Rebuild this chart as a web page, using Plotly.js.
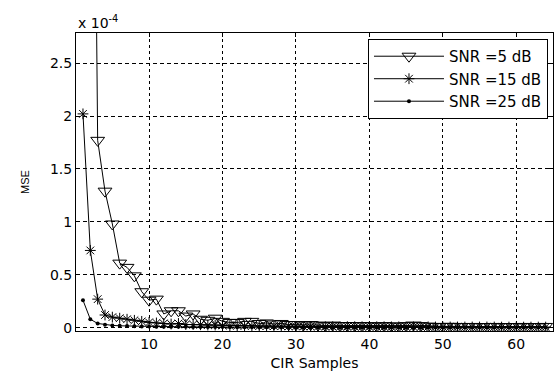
<!DOCTYPE html>
<html>
<head>
<meta charset="utf-8">
<script src="https://cdn.plot.ly/plotly-3.0.1.min.js"></script>
<style>html,body{margin:0;padding:0;background:#fff;}#chart{width:554px;height:373px;}</style>
</head>
<body>
<div id="chart"></div>
<script>
// CIR sample index
const samples = [];
for (let i = 1; i <= 64; i++) samples.push(i);

// MSE values (x 1e-4)
const snr5 = [30, 9.0, 1.77, 1.29, 0.98, 0.61, 0.57, 0.49, 0.34, 0.26,
  0.27, 0.13, 0.16, 0.16, 0.11, 0.13, 0.08, 0.07, 0.09, 0.06,
  0.05, 0.05, 0.06, 0.06, 0.04, 0.045, 0.035, 0.04, 0.03, 0.03,
  0.025, 0.03, 0.025, 0.02, 0.025, 0.02, 0.02, 0.02, 0.018, 0.02,
  0.015, 0.02, 0.017, 0.015, 0.02, 0.025, 0.02, 0.015, 0.012, 0.012,
  0.013, 0.012, 0.011, 0.012, 0.01, 0.011, 0.012, 0.01, 0.011, 0.01,
  0.012, 0.01, 0.011, 0.012];
const snr15 = [2.02, 0.73, 0.27, 0.12, 0.10, 0.09, 0.08, 0.07, 0.06, 0.05,
  0.045, 0.04, 0.035, 0.04, 0.03, 0.03, 0.028, 0.025, 0.025, 0.022,
  0.02, 0.02, 0.018, 0.018, 0.016, 0.015, 0.015, 0.014, 0.013, 0.013,
  0.012, 0.012, 0.011, 0.011, 0.01, 0.01, 0.01, 0.01, 0.009, 0.009,
  0.009, 0.009, 0.008, 0.008, 0.008, 0.008, 0.008, 0.008, 0.007, 0.007,
  0.007, 0.007, 0.007, 0.007, 0.007, 0.007, 0.007, 0.006, 0.006, 0.006,
  0.006, 0.006, 0.006, 0.006];
const snr25 = [0.26, 0.08, 0.04, 0.028, 0.022, 0.018, 0.016, 0.014, 0.012, 0.011,
  0.01, 0.009, 0.009, 0.008, 0.008, 0.007, 0.007, 0.006, 0.006, 0.006,
  0.005, 0.005, 0.005, 0.005, 0.005, 0.004, 0.004, 0.004, 0.004, 0.004,
  0.004, 0.004, 0.003, 0.003, 0.003, 0.003, 0.003, 0.003, 0.003, 0.003,
  0.003, 0.003, 0.003, 0.003, 0.003, 0.003, 0.003, 0.003, 0.003, 0.003,
  0.003, 0.003, 0.003, 0.003, 0.003, 0.003, 0.003, 0.003, 0.003, 0.003,
  0.003, 0.003, 0.003, 0.003];

const names = ['SNR =5 dB', 'SNR =15 dB', 'SNR =25 dB'];
const xTicks = [10, 20, 30, 40, 50, 60];
const yTicks = [0, 0.5, 1, 1.5, 2, 2.5];
const yTickText = ['0', '0.5', '1', '1.5', '2', '2.5'];

const line = {color: '#000', width: 1};
const traces = [
  {x: samples, y: snr5, name: names[0], mode: 'lines+markers', line: line,
   marker: {symbol: 'triangle-down-open', size: 12, color: '#000', line: {width: 1, color: '#000'}}},
  {x: samples, y: snr15, name: names[1], mode: 'lines+markers', line: line,
   marker: {symbol: 'asterisk-open', size: 9, color: '#000', line: {width: 1, color: '#000'}}},
  {x: samples, y: snr25, name: names[2], mode: 'lines+markers', line: line,
   marker: {symbol: 'circle', size: 4, color: '#000'}}
];

const font = {family: 'DejaVu Sans, sans-serif', size: 14, color: '#000'};
const smallFont = {family: 'Liberation Sans, Arial, sans-serif', size: 11, color: '#000'};
const legFont = {family: 'DejaVu Sans, sans-serif', size: 15, color: '#000'};
const layout = {
  width: 554, height: 373,
  margin: {l: 76, r: 1, t: 33, b: 42},
  paper_bgcolor: '#fff', plot_bgcolor: '#fff',
  font: font,
  showlegend: true,
  xaxis: {
    range: [0.05, 65], tickvals: xTicks, ticks: 'inside', ticklen: 4, tickcolor: '#000',
    showline: true, linecolor: '#000', linewidth: 1, mirror: 'ticks',
    showgrid: true, gridcolor: '#000', gridwidth: 1, griddash: '3px,3px',
    zeroline: false, tickfont: font,
    title: {text: 'CIR Samples', font: font, standoff: 7}
  },
  yaxis: {
    range: [-0.031, 2.784], tickvals: yTicks, ticktext: yTickText, ticks: 'inside', ticklen: 4, tickcolor: '#000',
    showline: true, linecolor: '#000', linewidth: 1, mirror: 'ticks',
    showgrid: true, gridcolor: '#000', gridwidth: 1, griddash: '4px,3px',
    zeroline: false, tickfont: font,
    title: {text: 'MSE', font: smallFont, standoff: 18}
  },
  legend: {
    x: 0.9895, y: 0.98, xanchor: 'right', yanchor: 'top',
    bgcolor: '#fff', bordercolor: '#000', borderwidth: 1,
    font: legFont, itemwidth: 70, tracegroupgap: 0
  },
  annotations: [{
    text: 'x 10<sup>-4</sup>', xref: 'paper', yref: 'paper', x: 0, y: 1,
    xanchor: 'left', yanchor: 'bottom', showarrow: false, font: font, yshift: 0
  }]
};

Plotly.newPlot('chart', traces, layout, {displayModeBar: false, staticPlot: true});
</script>
</body>
</html>
